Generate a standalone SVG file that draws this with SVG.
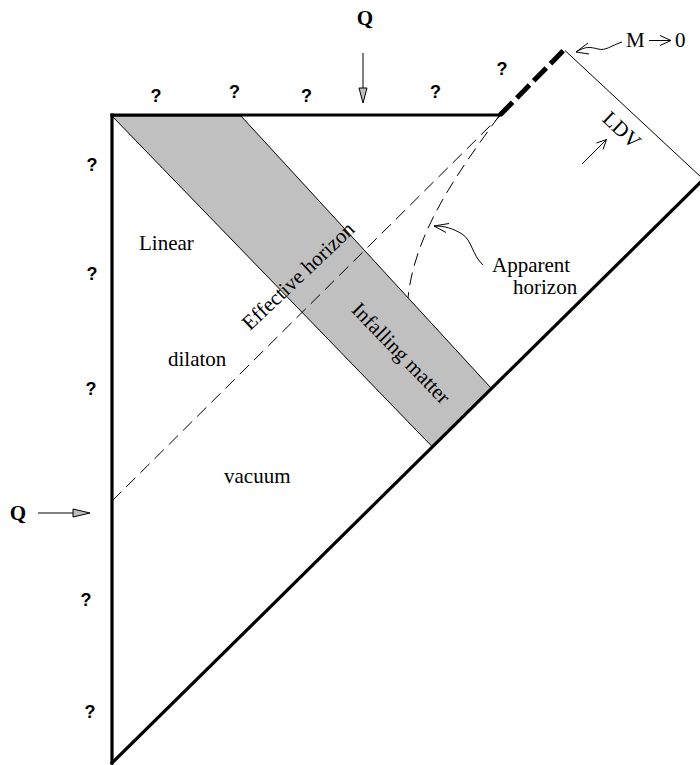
<svg xmlns="http://www.w3.org/2000/svg" width="700" height="765" viewBox="0 0 700 765">
<style>
.thick{stroke:#000;stroke-width:3.2;fill:none;stroke-linecap:square}
.thin{stroke:#000;stroke-width:1;fill:none}
.dash{stroke:#000;stroke-width:1;fill:none;stroke-dasharray:13 7}
.lbl{font-family:"Liberation Serif","Times New Roman",serif;font-size:21px;fill:#000}
.q{font-family:"Liberation Sans",Arial,sans-serif;font-weight:bold;font-size:18px;fill:#000;text-anchor:middle}
.Q{font-family:"Liberation Serif","Times New Roman",serif;font-weight:bold;font-size:21px;fill:#000;text-anchor:middle}
.head{fill:#bdbdbd;stroke:#000;stroke-width:1;stroke-linejoin:miter}
</style>
<rect width="700" height="765" fill="#fff"/>
<g id="infalling-matter">
<polygon points="112,116 241,116 491.6,388.7 432.5,447" fill="#c0c0c0" stroke="#000" stroke-width="1"/>
<text class="lbl" font-size="22" text-anchor="middle" transform="translate(396,358) rotate(46)">Infalling matter</text>
</g>
<g id="boundary">
<line class="thick" x1="112" y1="115" x2="112" y2="763"/>
<line class="thick" x1="112" y1="115" x2="500" y2="115"/>
<line class="thick" x1="112" y1="763" x2="712" y2="171"/>
<line x1="500" y1="115" x2="564" y2="50" stroke="#000" stroke-width="5" stroke-dasharray="18 6"/>
<line class="thin" x1="565" y1="50.5" x2="702" y2="178"/>
</g>
<g id="connectors">
<line class="dash" x1="112" y1="501" x2="500" y2="116"/>
<path class="dash" d="M499,116 C460,170 415,230 408,298"/>
<path class="thin" d="M483,265 C472,255 472,240 462,234 C452,228 445,226 434,226"/>
<polyline class="thin" points="449,223.5 434,226 446,232.5"/>
<path class="thin" d="M622,42 C610,46 606,51 598,49 C590,47 586,46 576,52"/>
<polyline class="thin" points="588,43 576,52 589,54"/>
<line class="thin" x1="582" y1="164" x2="606.5" y2="139.5" stroke-width="1.2"/>
<polyline class="thin" points="596.5,143 606.5,139.5 603,149.5" stroke-width="1.2"/>
<line class="thin" x1="363" y1="53" x2="363" y2="89" stroke-width="1.2"/>
<polygon class="head" points="359,88 367,88 363,103"/>
<line class="thin" x1="38" y1="513" x2="74" y2="513" stroke-width="1.2"/>
<polygon class="head" points="73,509 73,517 90,513"/>
<line class="thin" x1="649" y1="40.5" x2="671" y2="40.5" stroke-width="1.2"/>
<polyline class="thin" points="660,35.5 671,40.5 660,45.5" stroke-width="1.2"/>
</g>
<g id="labels">
<text class="lbl" x="139" y="250">Linear</text>
<text class="lbl" x="168" y="366">dilaton</text>
<text class="lbl" x="224" y="483">vacuum</text>
<text class="lbl" font-size="22" text-anchor="middle" transform="translate(303,281) rotate(-43.5)">Effective horizon</text>
<text class="lbl" x="492" y="272">Apparent</text>
<text class="lbl" x="513" y="294">horizon</text>
<text class="lbl" text-anchor="middle" transform="translate(617,135) rotate(43)">LDV</text>
<text class="lbl" font-size="22" x="626" y="47">M</text>
<text class="lbl" font-size="22" x="675" y="47">0</text>
<text class="Q" x="365" y="25">Q</text>
<text class="Q" x="18" y="520">Q</text>
</g>
<g id="question-marks">
<text class="q" x="156" y="102">?</text>
<text class="q" x="234.5" y="98">?</text>
<text class="q" x="306.5" y="102">?</text>
<text class="q" x="435.5" y="98">?</text>
<text class="q" x="502" y="75">?</text>
<text class="q" x="92" y="171">?</text>
<text class="q" x="92" y="280">?</text>
<text class="q" x="91" y="395">?</text>
<text class="q" x="86" y="606">?</text>
<text class="q" x="90" y="718">?</text>
</g>
</svg>
